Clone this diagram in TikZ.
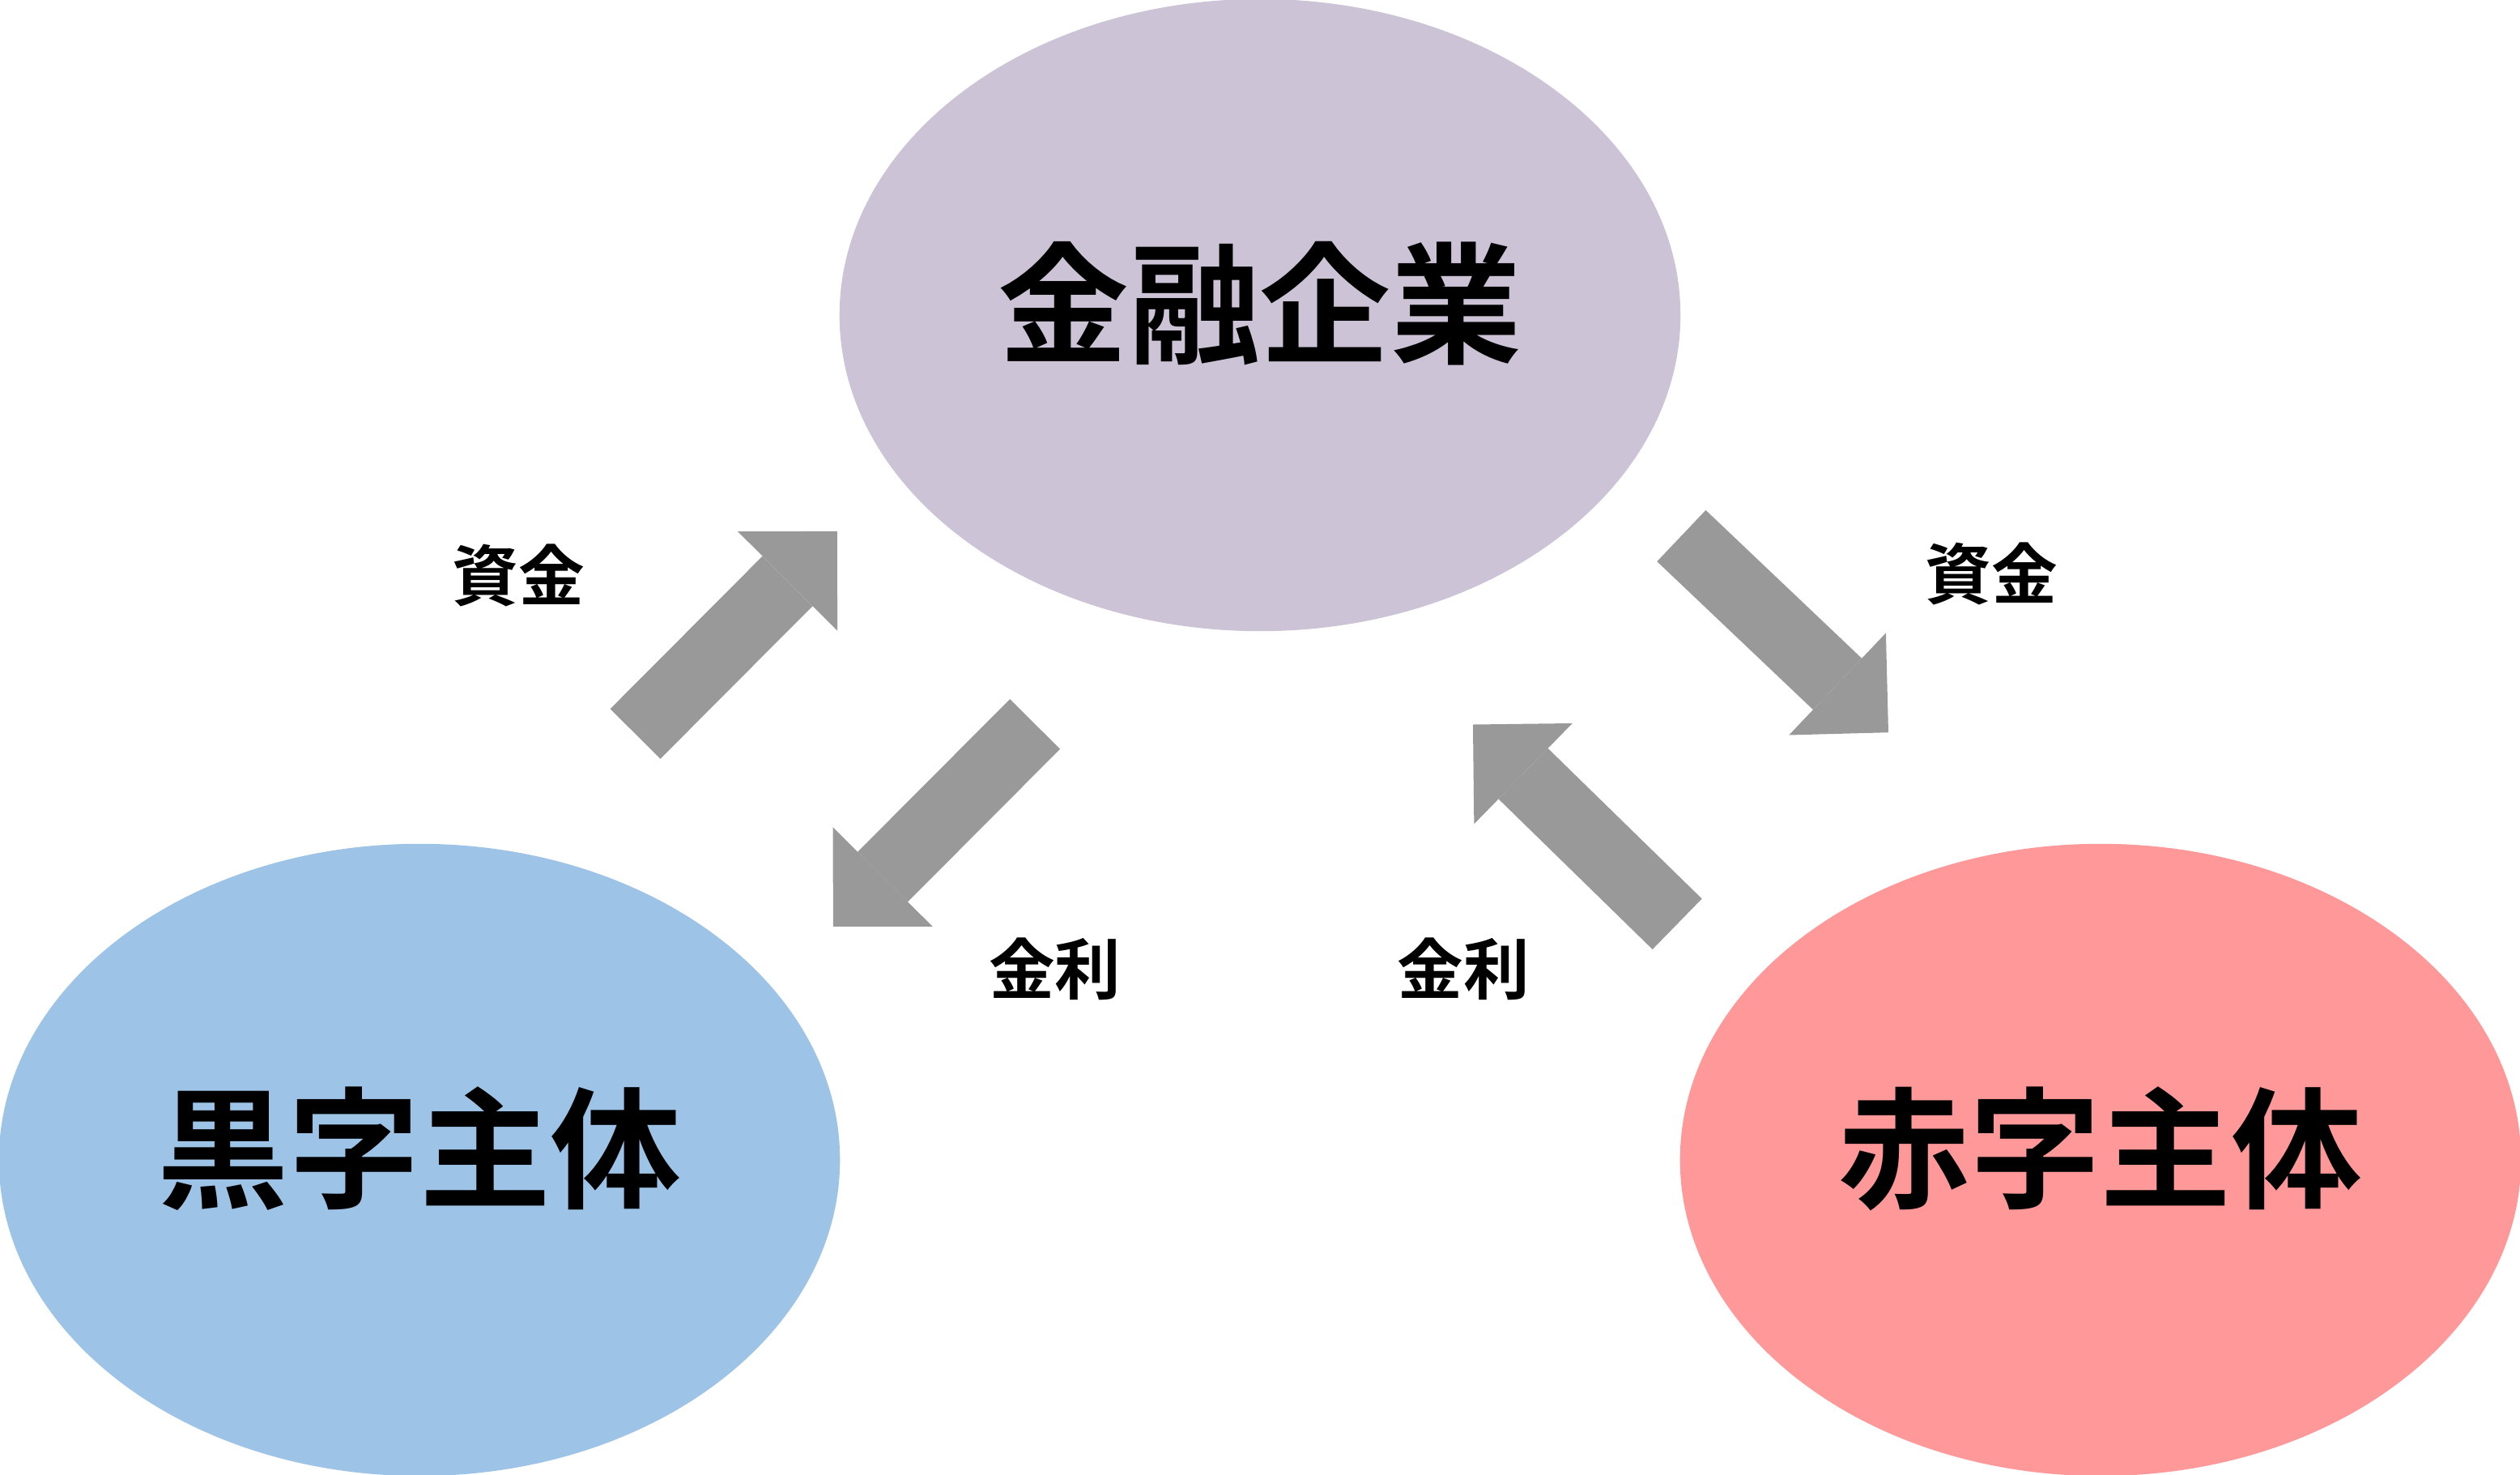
\documentclass[tikz,border=0pt]{standalone}
\usepackage{fontspec}
\newfontfamily\cjk{Noto Sans CJK JP}[BoldFont={Noto Sans CJK JP Bold}]
\usetikzlibrary{shapes.geometric,arrows.meta}
\definecolor{finfill}{RGB}{204,195,214}
\definecolor{surplusfill}{RGB}{157,195,230}
\definecolor{deficitfill}{RGB}{255,153,153}
\definecolor{flowgray}{RGB}{153,153,153}
\tikzset{
	agent/.style={ellipse, inner sep=0pt, minimum width=5.23cm, minimum height=3.93cm, text depth=6.2pt, font=\cjk\bfseries\fontsize{23.2}{24}\selectfont},
	flow/.style={draw=flowgray, line width=0.44cm, -{Triangle[length=0.437cm, width=0.875cm, line width=0pt]}},
	tag/.style={font=\cjk\bfseries\fontsize{11.7}{12}\selectfont}
}
\begin{document}
\begin{tikzpicture}[x=0.01cm, y=-0.01cm]
	\useasboundingbox (0,0) rectangle (1568,917.5);
	% Define the nodes with specific positions
	\node[agent, fill=finfill] (fin) at (784,196) {金融企業};
	\node[agent, fill=surplusfill] (sur) at (261,721.5) {黒字主体};
	\node[agent, fill=deficitfill] (def) at (1307,721.5) {赤字主体};

	% Ends of the block arrows
	\coordinate (s1) at (395.3,456.5);
	\coordinate (t1) at (520.9,330.5);
	\coordinate (s2) at (644,450.4);
	\coordinate (t2) at (518.4,576.4);
	\coordinate (s3) at (1046.2,333.3);
	\coordinate (t3) at (1175,455.6);
	\coordinate (s4) at (1043.6,574.8);
	\coordinate (t4) at (916.5,450.7);

	% Draw the arrows between the nodes
	\draw[flow] (s1) -- (t1);
	\draw[flow] (s2) -- (t2);
	\draw[flow] (s3) -- (t3);
	\draw[flow] (s4) -- (t4);

	% Labels of the arrows
	\node[tag] (m1) at (322.5,358) {資金};
	\node[tag] (m2) at (1239,357) {資金};
	\node[tag] (r1) at (656.5,603) {金利};
	\node[tag] (r2) at (910.5,603) {金利};
\end{tikzpicture}
\end{document}
